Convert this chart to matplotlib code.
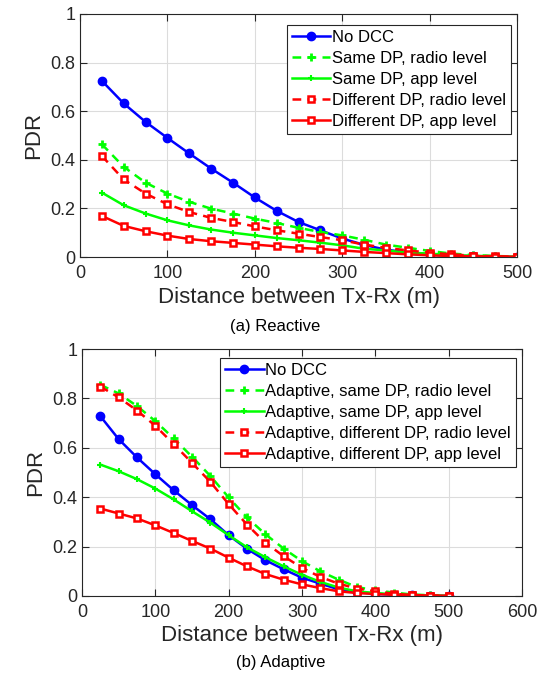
import numpy as np
import matplotlib
matplotlib.use('Agg')
from matplotlib import pyplot as plt

plt.rcParams['font.family'] = ['Liberation Sans', 'DejaVu Sans']

# distancia entre Tx y Rx
distance = [25, 50, 75, 100, 125, 150, 175, 200, 225, 250,
            275, 300, 325, 350, 375, 400, 425, 450, 475, 500]

# (a) Reactive
no_dcc = [0.725, 0.632, 0.556, 0.490, 0.426, 0.364, 0.306, 0.245, 0.190, 0.144,
          0.110, 0.076, 0.050, 0.030, 0.019, 0.010, 0.005, 0.003, 0.001, 0.000]
same_radio = [0.464, 0.371, 0.306, 0.261, 0.227, 0.199, 0.179, 0.158, 0.140, 0.120,
              0.103, 0.089, 0.071, 0.051, 0.038, 0.025, 0.014, 0.008, 0.004, 0.002]
same_app = [0.265, 0.213, 0.179, 0.151, 0.130, 0.113, 0.100, 0.089, 0.078, 0.069,
            0.059, 0.048, 0.034, 0.027, 0.018, 0.014, 0.008, 0.005, 0.003, 0.001]
diff_radio = [0.416, 0.319, 0.261, 0.217, 0.185, 0.161, 0.144, 0.126, 0.110, 0.096,
              0.082, 0.069, 0.051, 0.038, 0.027, 0.018, 0.011, 0.005, 0.003, 0.001]
diff_app = [0.169, 0.128, 0.106, 0.088, 0.074, 0.065, 0.058, 0.051, 0.044, 0.038,
            0.033, 0.027, 0.021, 0.016, 0.011, 0.007, 0.004, 0.003, 0.002, 0.001]

# (b) Adaptive
no_dcc_b = [0.728, 0.635, 0.561, 0.493, 0.428, 0.368, 0.311, 0.246, 0.191, 0.145,
            0.108, 0.074, 0.050, 0.027, 0.016, 0.009, 0.005, 0.003, 0.001, 0.000]
ad_same_radio = [0.855, 0.820, 0.769, 0.708, 0.638, 0.564, 0.486, 0.399, 0.318, 0.250,
                 0.192, 0.141, 0.100, 0.066, 0.036, 0.023, 0.014, 0.006, 0.003, 0.001]
ad_same_app = [0.532, 0.505, 0.473, 0.435, 0.391, 0.343, 0.297, 0.246, 0.197, 0.157,
               0.120, 0.086, 0.057, 0.034, 0.019, 0.012, 0.007, 0.004, 0.002, 0.001]
ad_diff_radio = [0.848, 0.804, 0.751, 0.689, 0.615, 0.539, 0.462, 0.372, 0.289, 0.216,
                 0.161, 0.114, 0.077, 0.050, 0.030, 0.019, 0.009, 0.004, 0.002, 0.001]
ad_diff_app = [0.354, 0.334, 0.314, 0.286, 0.255, 0.223, 0.192, 0.155, 0.120, 0.089,
               0.066, 0.047, 0.032, 0.019, 0.012, 0.008, 0.005, 0.003, 0.002, 0.001]

labels_a = ['No DCC', 'Same DP, radio level', 'Same DP, app level',
            'Different DP, radio level', 'Different DP, app level']
labels_b = ['No DCC', 'Adaptive, same DP, radio level', 'Adaptive, same DP, app level',
            'Adaptive, different DP, radio level', 'Adaptive, different DP, app level']

txt = '#262626'
dash = (0, (3.5, 2.5))

def dibujar(ax, series, labels, xmax, leg_anchor):
    estilos = [
        dict(color='#0000ff', ls='-', marker='o', ms=6, mfc='#0000ff'),
        dict(color='#00ff00', ls=dash, marker='+', ms=6, mew=2),
        dict(color='#00ff00', ls='-', marker='+', ms=5, mew=1.5),
        dict(color='#ff0000', ls=dash, marker='s', ms=4.5, mfc='white', mew=1.8),
        dict(color='#ff0000', ls='-', marker='s', ms=4.5, mfc='white', mew=1.8),
    ]
    for y, lab, st in zip(series, labels, estilos):
        ax.plot(distance, y, lw=1.8, label=lab, **st)
    ax.set_xlim(0, xmax)
    ax.set_ylim(0, 1)
    ax.set_xticks(np.arange(0, xmax + 1, 100))
    ax.set_yticks([0, 0.2, 0.4, 0.6, 0.8, 1])
    ax.set_yticklabels(['0', '0.2', '0.4', '0.6', '0.8', '1'])
    ax.grid(True, color='#dcdcdc', lw=0.8)
    ax.set_axisbelow(True)
    ax.tick_params(direction='in', top=True, right=True, labelsize=13,
                   colors=txt, length=5, width=0.8)
    ax.tick_params(axis='x', pad=6)
    for s in ax.spines.values():
        s.set_color(txt)
        s.set_linewidth(0.8)
    ax.set_xlabel('Distance between Tx-Rx (m)', fontsize=16, color=txt, labelpad=3)
    ax.set_ylabel('PDR', fontsize=16, color=txt, labelpad=4)
    leg = ax.legend(loc='upper right', bbox_to_anchor=leg_anchor, fontsize=12,
                    handlelength=2.3, handletextpad=0.1, labelspacing=0.36,
                    borderpad=0.3, borderaxespad=0, fancybox=False,
                    framealpha=1, edgecolor=txt)
    leg.get_frame().set_linewidth(0.8)
    for t in leg.get_texts():
        t.set_color('black')

fig = plt.figure(figsize=(5.51, 6.86), dpi=100)
ax1 = fig.add_axes([80 / 551, 1 - 257 / 686, 437 / 551, 243 / 686])
ax2 = fig.add_axes([82 / 551, 1 - 596 / 686, 440 / 551, 247 / 686])

dibujar(ax1, [no_dcc, same_radio, same_app, diff_radio, diff_app], labels_a, 500,
        (0.986, 0.955))
dibujar(ax2, [no_dcc_b, ad_same_radio, ad_same_app, ad_diff_radio, ad_diff_app], labels_b, 600,
        (0.986, 0.964))

fig.text(275 / 551, 1 - 327 / 686, '(a) Reactive', ha='center', va='center',
         fontsize=12, color='black')
fig.text(281 / 551, 1 - 662 / 686, '(b) Adaptive', ha='center', va='center',
         fontsize=12, color='black')

fig.savefig('out.png', dpi=100)
